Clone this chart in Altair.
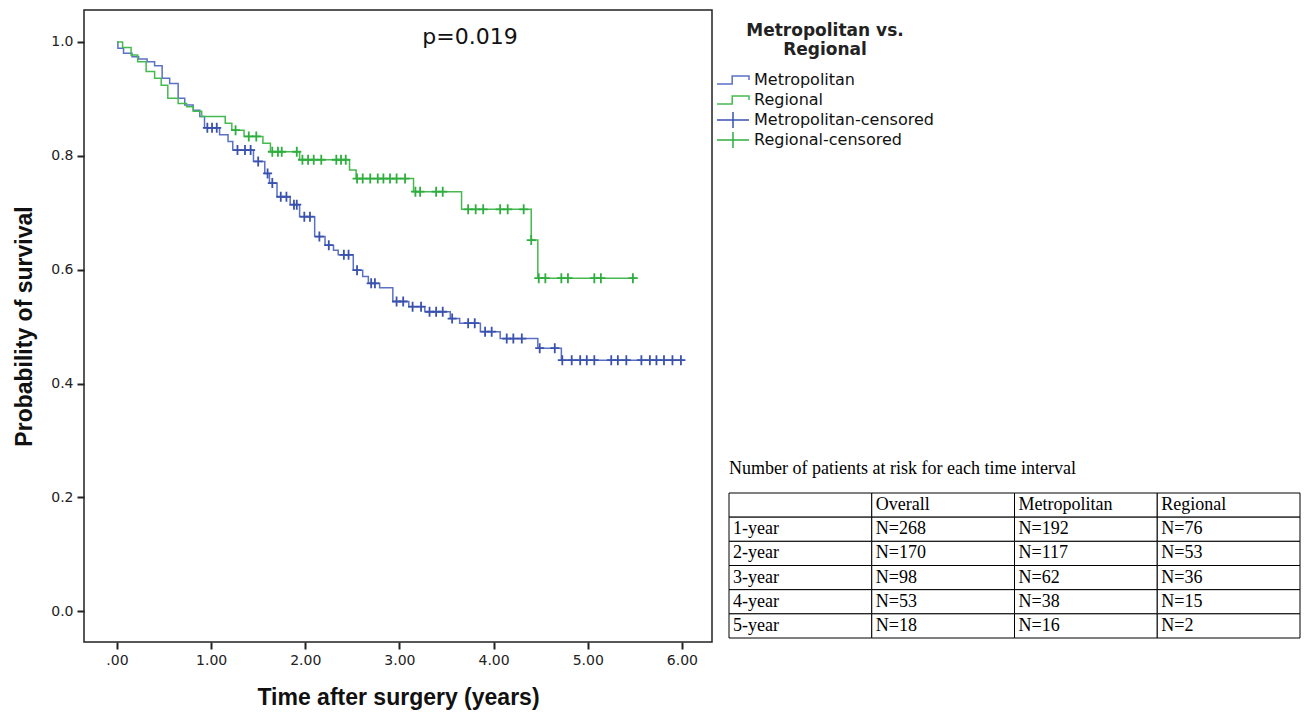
import altair as alt
import pandas as pd

# ---- Kaplan-Meier step data ----
met_t = [0, 0.01, 0.07, 0.16, 0.23, 0.32, 0.40, 0.48, 0.56, 0.65, 0.72, 0.81, 0.88, 0.93,
         1.09, 1.18, 1.23, 1.45, 1.57, 1.62, 1.70, 1.84, 1.94, 2.10, 2.21, 2.30, 2.35, 2.51,
         2.61, 2.67, 2.79, 2.93, 3.10, 3.27, 3.54, 3.64, 3.86, 4.07, 4.47, 4.72, 6.03]
met_s = [1.0, 0.989, 0.980, 0.974, 0.970, 0.965, 0.958, 0.936, 0.927, 0.901, 0.889, 0.880,
         0.869, 0.849, 0.837, 0.825, 0.810, 0.790, 0.769, 0.752, 0.728, 0.714, 0.693, 0.658,
         0.643, 0.634, 0.626, 0.599, 0.588, 0.576, 0.568, 0.544, 0.535, 0.526, 0.514, 0.506,
         0.491, 0.479, 0.462, 0.441, 0.441]

reg_t = [0, 0.06, 0.15, 0.22, 0.31, 0.40, 0.47, 0.54, 0.65, 0.74, 0.81, 0.90, 1.15, 1.22,
         1.35, 1.55, 1.63, 1.94, 2.47, 2.54, 3.15, 3.66, 4.40, 4.47, 5.53]
reg_s = [1.0, 0.990, 0.977, 0.965, 0.948, 0.936, 0.924, 0.901, 0.892, 0.886, 0.878, 0.869,
         0.857, 0.845, 0.834, 0.822, 0.807, 0.793, 0.775, 0.760, 0.737, 0.706, 0.652, 0.585,
         0.585]

met_cens_t = [0.96, 1.01, 1.06, 1.28, 1.36, 1.42, 1.50, 1.60, 1.65, 1.74, 1.80, 1.88, 1.91,
              1.99, 2.05, 2.15, 2.25, 2.41, 2.46, 2.55, 2.70, 2.74, 2.97, 3.04, 3.14, 3.23,
              3.32, 3.39, 3.46, 3.56, 3.73, 3.80, 3.91, 3.98, 4.14, 4.21, 4.30, 4.49, 4.65,
              4.73, 4.83, 4.92, 4.99, 5.07, 5.25, 5.32, 5.41, 5.57, 5.66, 5.73, 5.81, 5.90, 5.99]
met_cens_s = [0.849, 0.849, 0.849, 0.810, 0.810, 0.810, 0.790, 0.769, 0.752, 0.728, 0.728,
              0.714, 0.714, 0.693, 0.693, 0.658, 0.643, 0.626, 0.626, 0.599, 0.576, 0.576,
              0.544, 0.544, 0.535, 0.535, 0.526, 0.526, 0.526, 0.514, 0.506, 0.506, 0.491,
              0.491, 0.479, 0.479, 0.479, 0.462, 0.462,
              0.441, 0.441, 0.441, 0.441, 0.441, 0.441, 0.441, 0.441, 0.441, 0.441, 0.441,
              0.441, 0.441, 0.441]

reg_cens_t = [1.26, 1.40, 1.48, 1.65, 1.71, 1.75, 1.91, 1.97, 2.03, 2.09, 2.17, 2.33, 2.38,
              2.43, 2.55, 2.61, 2.69, 2.77, 2.83, 2.90, 2.97, 3.06, 3.17, 3.22, 3.39, 3.46,
              3.73, 3.81, 3.89, 4.07, 4.15, 4.32, 4.40, 4.48, 4.55, 4.72, 4.79, 5.07, 5.14, 5.48]
reg_cens_s = [0.845, 0.834, 0.834, 0.807, 0.807, 0.807, 0.807, 0.793, 0.793, 0.793, 0.793,
              0.793, 0.793, 0.793, 0.760, 0.760, 0.760, 0.760, 0.760, 0.760, 0.760, 0.760,
              0.737, 0.737, 0.737, 0.737, 0.706, 0.706, 0.706, 0.706, 0.706, 0.706, 0.652,
              0.585, 0.585, 0.585, 0.585, 0.585, 0.585, 0.585]

legend_domain = ["Metropolitan", "Regional", "Metropolitan-censored", "Regional-censored"]
legend_colors = ["#5a71c6", "#46ba50", "#3a52ae", "#2fae3f"]
p_label = "p=0.019"

# ---- at-risk table ----
table_title = "Number of patients at risk for each time interval"
table_cols = ["", "Overall", "Metropolitan", "Regional"]
table_rows = ["1-year", "2-year", "3-year", "4-year", "5-year"]
overall_n = [268, 170, 98, 53, 18]
metro_n = [192, 117, 62, 38, 16]
regional_n = [76, 53, 36, 15, 2]

curves = pd.DataFrame({
    "t": met_t + reg_t,
    "s": met_s + reg_s,
    "grp": ["Metropolitan"] * len(met_t) + ["Regional"] * len(reg_t),
})
cens = pd.DataFrame({
    "t": met_cens_t + reg_cens_t,
    "s": met_cens_s + reg_cens_s,
    "grp": ["Metropolitan-censored"] * len(met_cens_t) + ["Regional-censored"] * len(reg_cens_t),
})

cells = []
col_keys = [f"c{i}" for i in range(len(table_cols))]
row_keys = [f"r{i}" for i in range(len(table_rows) + 1)]
for ci, name in enumerate(table_cols):
    cells.append({"col": col_keys[ci], "row": row_keys[0], "text": name})
for ri, rname in enumerate(table_rows):
    vals = [rname, f"N={overall_n[ri]}", f"N={metro_n[ri]}", f"N={regional_n[ri]}"]
    for ci, v in enumerate(vals):
        cells.append({"col": col_keys[ci], "row": row_keys[ri + 1], "text": v})
cells = pd.DataFrame(cells)

x_scale = alt.Scale(domain=[-0.35, 6.32], nice=False, zero=False)
y_scale = alt.Scale(domain=[-0.054, 1.056], nice=False, zero=False)
color_scale = alt.Scale(domain=legend_domain, range=legend_colors)

x_axis = alt.Axis(values=[0, 1, 2, 3, 4, 5, 6],
                  labelExpr="datum.value == 0 ? '.00' : format(datum.value, '.2f')",
                  title="Time after surgery (years)", grid=False, domain=False,
                  tickSize=7, tickWidth=2, tickColor="#222",
                  labelFont="DejaVu Sans", labelFontSize=14, labelColor="#222", labelPadding=4,
                  titleFont="Liberation Sans", titleFontSize=23, titleFontWeight="bold",
                  titleColor="#111", titlePadding=19)
y_axis = alt.Axis(values=[0, 0.2, 0.4, 0.6, 0.8, 1.0], format=".1f",
                  title="Probability of survival", grid=False, domain=False,
                  tickSize=7, tickWidth=2, tickColor="#222",
                  labelFont="DejaVu Sans", labelFontSize=14, labelColor="#222", labelPadding=4,
                  titleFont="Liberation Sans", titleFontSize=23, titleFontWeight="bold",
                  titleColor="#111", titlePadding=14)

shape_expr = ("indexof(datum.value, 'censored') >= 0 ? 'M-1,0L1,0M0,-0.5L0,0.5' : "
              "'M-1,0.25L-0.05,0.25L-0.05,-0.25L1,-0.25L1,0'")

legend = alt.Legend(title=["Metropolitan vs.", "Regional"], orient="none",
                    legendX=632, legendY=13, symbolSize=1024, clipHeight=20, rowPadding=0,
                    symbolStrokeWidth=1.5, symbolType={"expr": shape_expr},
                    labelFont="DejaVu Sans", labelFontSize=16,
                    labelColor="#111", labelOffset=4, labelLimit=400,
                    titleFont="DejaVu Sans", titleFontSize=17, titleFontWeight="bold",
                    titleColor="#222", titleAlign="center", titleAnchor="middle",
                    titleLineHeight=19, titlePadding=11, titleLimit=400)

lines = alt.Chart(curves).mark_line(interpolate="step-after", strokeWidth=1.5).encode(
    x=alt.X("t:Q", scale=x_scale, axis=x_axis),
    y=alt.Y("s:Q", scale=y_scale, axis=y_axis),
    color=alt.Color("grp:N", scale=color_scale, legend=legend),
)

cens_pts = alt.Chart(cens).mark_point(shape="M-0.9,0L0.9,0M0,-1L0,1", size=100, filled=False,
                                      strokeWidth=1.8, opacity=1).encode(
    x=alt.X("t:Q", scale=x_scale),
    y=alt.Y("s:Q", scale=y_scale),
    color=alt.Color("grp:N", scale=color_scale, legend=None),
)

ptext = alt.Chart(pd.DataFrame({"k": [0]})).mark_text(
    text=p_label, font="DejaVu Sans", fontSize=22, color="#111", align="center",
    baseline="middle").encode(x=alt.datum(3.75), y=alt.datum(1.009))

tx_scale = alt.Scale(domain=col_keys, range=[645, 1216], paddingInner=0, paddingOuter=0)
ty_scale = alt.Scale(domain=row_keys, range=[483, 628], paddingInner=0, paddingOuter=0)

rects = alt.Chart(cells).mark_rect(fill="white", stroke="black", strokeWidth=1).encode(
    x=alt.X("col:N", scale=tx_scale, axis=None),
    y=alt.Y("row:N", scale=ty_scale, axis=None),
)
texts = alt.Chart(cells).mark_text(align="left", baseline="middle", dx=4,
                                   font="Liberation Serif", fontSize=18, color="black").encode(
    x=alt.X("col:N", scale=tx_scale, axis=None, bandPosition=0),
    y=alt.Y("row:N", scale=ty_scale, axis=None),
    text="text:N",
)
ttitle = alt.Chart(pd.DataFrame({"k": [0]})).mark_text(
    text=table_title, align="left", baseline="middle", font="Liberation Serif",
    fontSize=18, color="black").encode(x=alt.value(645), y=alt.value(459))

plot = alt.layer(lines, cens_pts, ptext)
table = alt.layer(rects, texts, ttitle)

chart = alt.layer(plot, table).resolve_scale(x="independent", y="independent").properties(
    width=628, height=632,
    autosize=alt.AutoSizeParams(type="none"),
    padding={"left": 76, "top": 2, "right": 589, "bottom": 78},
).configure_view(stroke="#222", strokeWidth=1.5)

chart.save("out.html", embed_options={"renderer": "svg", "actions": False})
